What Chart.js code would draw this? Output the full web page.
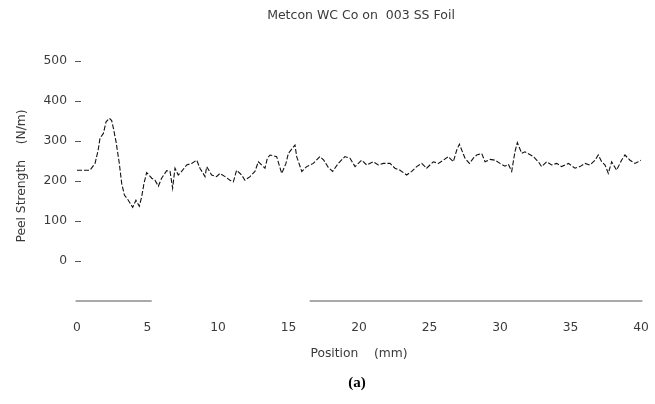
<!DOCTYPE html>
<html>
<head>
<meta charset="utf-8">
<script src="https://cdn.jsdelivr.net/npm/chart.js@4"></script>
<style>
  html, body { margin: 0; padding: 0; background: #fff; }
  #wrap { width: 655px; height: 404px; }
</style>
</head>
<body>
<div id="wrap"><canvas id="c" width="655" height="404"></canvas></div>
<script>
// Peel strength trace along the foil
const positionMm = [
  0, 0.92, 1.28, 1.5, 1.63, 1.87, 2.06, 2.3, 2.46, 2.58, 2.77, 3.0, 3.17, 3.36, 3.64, 3.95,
  4.18, 4.42, 4.59, 4.75, 4.94, 5.3, 5.53, 5.77, 6.0, 6.36, 6.6, 6.78, 6.95, 7.18, 7.42,
  7.78, 8.13, 8.49, 8.72, 9.08, 9.2, 9.55, 9.9, 10.14, 10.5, 10.85, 11.09, 11.32, 11.68,
  11.91, 12.27, 12.62, 12.86, 13.33, 13.5, 13.69, 14.16, 14.52, 14.82, 14.99, 15.46, 15.58,
  15.94, 16.29, 16.76, 17.23, 17.5, 17.82, 18.13, 18.53, 19.0, 19.36, 19.72, 20.19, 20.55,
  21.01, 21.37, 21.73, 22.2, 22.55, 22.91, 23.38, 23.74, 24.09, 24.45, 24.8, 25.27, 25.63,
  25.98, 26.33, 26.69, 26.93, 27.12, 27.52, 27.83, 28.11, 28.35, 28.7, 28.94, 29.29, 29.65,
  30.0, 30.35, 30.59, 30.83, 31.06, 31.23, 31.54, 31.77, 32.36, 32.72, 32.95, 33.31, 33.66,
  34.02, 34.37, 34.85, 35.32, 35.67, 36.03, 36.38, 36.74, 36.97, 37.21, 37.45, 37.68, 37.92,
  38.27, 38.62, 38.86, 39.22, 39.57, 39.8, 40.0
];
const peelStrength = [
  227, 227, 244, 277, 307, 319, 348, 357, 351, 332, 298, 244, 194, 165, 152, 134,
  152, 137, 161, 194, 221, 207, 202, 187, 207, 226, 224, 182, 232, 215, 224,
  240, 244, 252, 232, 211, 236, 215, 211, 219, 211, 202, 198, 227, 215,
  202, 211, 224, 248, 232, 257, 265, 261, 219, 244, 269, 290, 261,
  224, 236, 244, 261, 252, 234, 224, 244, 261, 257, 236, 252, 240,
  248, 240, 244, 244, 232, 227, 215, 224, 236, 244, 232, 248, 244,
  252, 261, 248, 277, 292, 257, 244, 257, 265, 269, 248, 254, 252,
  244, 237, 242, 224, 273, 296, 269, 273, 261, 248, 236, 248, 240,
  244, 236, 244, 232, 236, 244, 240, 252, 265, 248, 240, 219, 248,
  227, 252, 265, 252, 244, 248, 252
];

// Baseline (x axis) drawn in two pieces, with a gap between them
const baselineX = [-0.1, 5.3, 16.5, 40.1];
const baselineY = -100;

const xTicks = [0, 5, 10, 15, 20, 25, 30, 35, 40];
const yTicks = [0, 100, 200, 300, 400, 500];

const titleText = 'Metcon WC Co on  003 SS Foil';
const xTitleText = 'Position    (mm)';
const yTitleText = 'Peel Strength    (N/m)';
const panelLabel = '(a)';

const FONT = '"DejaVu Sans", sans-serif';
const INK = '#3a3a3a';

const traceData = positionMm.map((x, i) => ({ x: x, y: peelStrength[i] }));
const baselineData = [
  { x: baselineX[0], y: baselineY },
  { x: baselineX[1], y: baselineY },
  { x: (baselineX[1] + baselineX[2]) / 2, y: null },
  { x: baselineX[2], y: baselineY },
  { x: baselineX[3], y: baselineY }
];

const decorations = {
  id: 'decorations',
  afterDraw(chart) {
    const ctx = chart.ctx;
    const yScale = chart.scales.y;
    const area = chart.chartArea;
    ctx.save();
    // short tick dashes beside the value labels
    ctx.strokeStyle = '#555';
    ctx.lineWidth = 1;
    yTicks.forEach(v => {
      const py = Math.round(yScale.getPixelForValue(v)) + 0.5;
      ctx.beginPath();
      ctx.moveTo(area.left - 2, py);
      ctx.lineTo(area.left + 4, py);
      ctx.stroke();
    });
    ctx.fillStyle = INK;
    ctx.textAlign = 'center';
    ctx.textBaseline = 'middle';
    ctx.font = '12.5px ' + FONT;
    ctx.fillText(titleText, 361, 16);
    ctx.font = '12.3px ' + FONT;
    ctx.fillText(xTitleText, 359, 354);
    ctx.save();
    ctx.translate(22, 176);
    ctx.rotate(-Math.PI / 2);
    ctx.fillText(yTitleText, 0, 0);
    ctx.restore();
    ctx.fillStyle = '#000';
    ctx.font = 'bold 15px "Liberation Serif", serif';
    ctx.fillText(panelLabel, 357, 383);
    ctx.restore();
  }
};

new Chart(document.getElementById('c'), {
  type: 'line',
  data: {
    datasets: [
      {
        data: traceData,
        borderColor: '#111',
        borderWidth: 1.1,
        borderDash: [5, 2],
        pointRadius: 0,
        tension: 0,
        fill: false
      },
      {
        data: baselineData,
        borderColor: '#555',
        borderWidth: 1,
        pointRadius: 0,
        spanGaps: false,
        clip: false,
        fill: false
      }
    ]
  },
  options: {
    responsive: false,
    animation: false,
    events: [],
    layout: { padding: { left: 0, top: 61, right: 14, bottom: 0 } },
    plugins: { legend: { display: false }, tooltip: { enabled: false }, title: { display: false } },
    scales: {
      x: {
        type: 'linear',
        min: 0,
        max: 40,
        afterFit(scale) {
          scale.height = 103;
          scale.paddingLeft = 0;
          scale.paddingRight = 0;
        },
        afterBuildTicks(scale) { scale.ticks = xTicks.map(v => ({ value: v })); },
        grid: { display: false, drawTicks: false },
        border: { display: false },
        ticks: { color: INK, font: { family: FONT, size: 12.3 }, padding: 19, maxRotation: 0 }
      },
      y: {
        type: 'linear',
        min: -100,
        max: 500,
        afterFit(scale) {
          scale.width = 77;
          scale.paddingTop = 0;
          scale.paddingBottom = 0;
        },
        afterBuildTicks(scale) { scale.ticks = yTicks.map(v => ({ value: v })); },
        grid: { display: false, drawTicks: false },
        border: { display: false },
        ticks: { color: INK, font: { family: FONT, size: 12.3 }, padding: 10 }
      }
    }
  },
  plugins: [decorations]
});
</script>
</body>
</html>
